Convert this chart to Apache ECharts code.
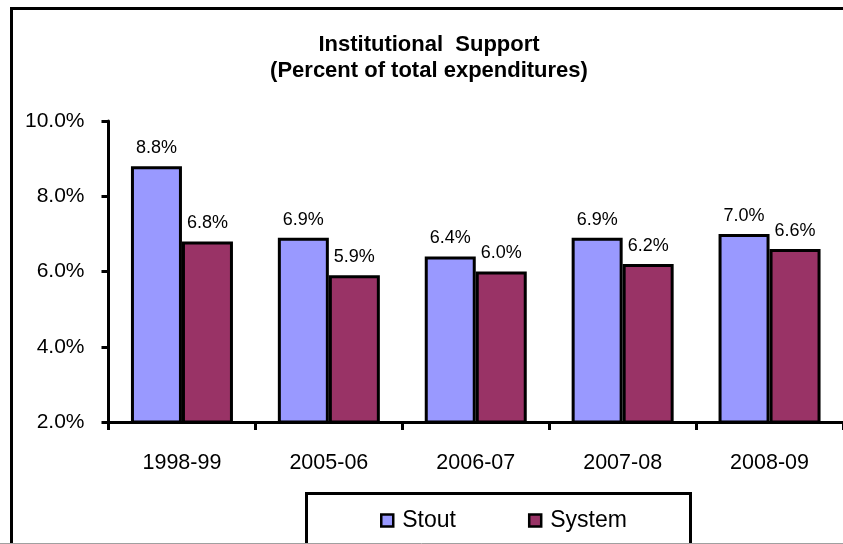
<!DOCTYPE html>
<html>
<head>
<meta charset="utf-8">
<title>Institutional Support</title>
<script src="https://cdn.jsdelivr.net/npm/echarts@6/dist/echarts.min.js"></script>
<style>
  html, body { margin: 0; padding: 0; background: #ffffff; }
  #chart { width: 843px; height: 544px; }
</style>
</head>
<body>
<div id="chart"></div>
<script>
// Fiscal years on the category axis
const years = ['1998-99', '2005-06', '2006-07', '2007-08', '2008-09'];
// Institutional support as percent of total expenditures
const stout = [8.8, 6.9, 6.4, 6.9, 7.0];
const system = [6.8, 5.9, 6.0, 6.2, 6.6];
// Value axis range and step (percent)
const yMin = 2;
const yMax = 10;
const yStep = 2;

const FONT = '"Liberation Sans", Arial, Helvetica, sans-serif';
const pct = v => Number(v).toFixed(1) + '%';

const chart = echarts.init(document.getElementById('chart'), null, { renderer: 'canvas' });

const barStyle = color => ({
  color: color,
  borderColor: '#000000',
  borderWidth: 3
});

const labelStyle = {
  show: true,
  position: 'top',
  distance: 9,
  color: '#000000',
  fontFamily: FONT,
  fontSize: 18,
  formatter: p => pct(p.value)
};

chart.setOption({
  backgroundColor: '#ffffff',
  animation: false,
  title: {
    text: 'Institutional  Support\n(Percent of total expenditures)',
    left: 429,
    top: 32,
    textAlign: 'center',
    padding: 0,
    textStyle: {
      fontFamily: FONT,
      fontSize: 22,
      fontWeight: 'bold',
      color: '#000000',
      lineHeight: 26
    }
  },
  legend: {
    left: 380,
    top: 509,
    padding: 0,
    itemWidth: 12,
    itemHeight: 12,
    itemGap: 72,
    icon: 'rect',
    data: [
      { name: 'Stout', itemStyle: { color: '#9999FF', borderColor: '#000000', borderWidth: 2.5 } },
      { name: 'System', itemStyle: { color: '#993366', borderColor: '#000000', borderWidth: 2.5 } }
    ],
    textStyle: {
      fontFamily: FONT,
      fontSize: 23,
      color: '#000000',
      padding: [0, 0, 0, 4]
    }
  },
  grid: {
    left: 108.5,
    top: 121,
    width: 744,
    bottom: 122,
    containLabel: false
  },
  xAxis: {
    type: 'category',
    data: years,
    axisLine: { show: true, onZero: false, lineStyle: { color: '#000000', width: 3 } },
    axisTick: { show: true, alignWithLabel: false, length: 8, lineStyle: { color: '#000000', width: 3 } },
    axisLabel: {
      margin: 30,
      color: '#000000',
      fontFamily: FONT,
      fontSize: 21.5
    },
    splitLine: { show: false }
  },
  yAxis: {
    type: 'value',
    min: yMin,
    max: yMax,
    interval: yStep,
    axisLine: { show: true, lineStyle: { color: '#000000', width: 3 } },
    axisTick: { show: true, length: 7, lineStyle: { color: '#000000', width: 3 } },
    axisLabel: {
      margin: 24,
      color: '#000000',
      fontFamily: FONT,
      fontSize: 21,
      formatter: v => pct(v)
    },
    splitLine: { show: false }
  },
  series: [
    {
      name: 'Stout',
      type: 'bar',
      data: stout,
      barGap: '0%',
      barWidth: 51,
      itemStyle: barStyle('#9999FF'),
      label: labelStyle
    },
    {
      name: 'System',
      type: 'bar',
      data: system,
      barGap: '0%',
      barWidth: 51,
      itemStyle: barStyle('#993366'),
      label: labelStyle
    }
  ],
  graphic: [
    // outer chart frame (runs past the right and bottom edges)
    {
      type: 'rect',
      silent: true,
      z: 100,
      shape: { x: 11.5, y: 8.5, width: 860, height: 600 },
      style: { fill: null, stroke: '#000000', lineWidth: 3 }
    },
    // legend box
    {
      type: 'rect',
      silent: true,
      z: 100,
      shape: { x: 306.5, y: 493.5, width: 384, height: 80 },
      style: { fill: null, stroke: '#000000', lineWidth: 3 }
    },
    // thin grey edge along the bottom
    {
      type: 'line',
      silent: true,
      z: 101,
      shape: { x1: 0, y1: 543.5, x2: 843, y2: 543.5 },
      style: { stroke: '#a0a0a0', lineWidth: 1 }
    }
  ]
});
</script>
</body>
</html>
